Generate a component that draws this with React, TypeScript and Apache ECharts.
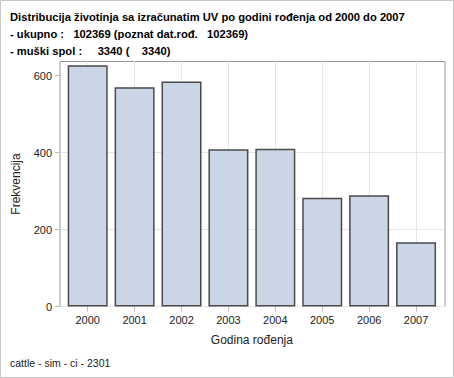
import React, { useEffect, useRef } from "react";
import * as echarts from "echarts";

const categories = ["2000", "2001", "2002", "2003", "2004", "2005", "2006", "2007"];
const counts = [627, 570, 585, 409, 410, 283, 289, 167];
const yTicks = [0, 200, 400, 600];
const yMax = 637;

const titleLines = [
  "Distribucija životinja sa izračunatim UV po godini rođenja od 2000 do 2007",
  "- ukupno :   102369 (poznat dat.rođ.   102369)",
  "- muški spol :     3340 (    3340)",
];
const footer = "cattle - sim - ci - 2301";
const xName = "Godina rođenja";
const yName = "Frekvencija";

const FONT = "'Liberation Sans', Arial, sans-serif";

export default function App() {
  const ref = useRef<HTMLDivElement>(null);
  useEffect(() => {
    if (!ref.current) return;
    const chart = echarts.init(ref.current, undefined, { renderer: "svg" });
    chart.setOption({
      animation: false,
      backgroundColor: "#ffffff",
      textStyle: { fontFamily: FONT },
      title: {
        text: titleLines.join("\n"),
        left: 5,
        top: 3,
        textStyle: { fontSize: 11.2, fontWeight: "bold", color: "#000", lineHeight: 17, fontFamily: FONT },
      },
      grid: [
        { left: 60, right: 9, top: 61.5, bottom: 71.5, show: true, borderColor: "#999", borderWidth: 1, backgroundColor: "transparent" },
        { left: 64.25, right: 14.5, top: 61.5, bottom: 71.5 },
      ],
      xAxis: [
        { gridIndex: 0, type: "value", min: 0, max: 1, show: false },
        {
          gridIndex: 1,
          type: "category",
          data: categories,
          axisLine: { show: false },
          axisTick: { show: true, alignWithLabel: true, length: 5, lineStyle: { color: "#bbb" } },
          axisLabel: { fontSize: 11, color: "#222", margin: 8, fontFamily: FONT },
          splitLine: { show: true, alignWithLabel: true, lineStyle: { color: "#e6e6e6" } },
          name: xName,
          nameLocation: "middle",
          nameGap: 27,
          nameTextStyle: { fontSize: 12, color: "#222", fontFamily: FONT },
        },
      ],
      yAxis: [
        {
          gridIndex: 0,
          type: "value",
          min: 0,
          max: yMax,
          interval: 200,
          axisLine: { show: false },
          axisTick: { show: true, length: 5, lineStyle: { color: "#bbb" }, customValues: yTicks },
          axisLabel: { fontSize: 11, color: "#222", margin: 8, customValues: yTicks, fontFamily: FONT },
          splitLine: { show: true, showMaxLine: false, lineStyle: { color: "#e6e6e6" } },
          name: yName,
          nameLocation: "middle",
          nameGap: 38,
          nameTextStyle: { fontSize: 12, color: "#222", fontFamily: FONT },
        },
        { gridIndex: 1, type: "value", min: 0, max: yMax, show: false },
      ],
      series: [
        {
          type: "bar",
          xAxisIndex: 1,
          yAxisIndex: 1,
          data: counts,
          barWidth: 40,
          itemStyle: { color: "#CAD5E5", borderColor: "#4a4a4a", borderWidth: 1.5 },
        },
      ],
      graphic: [
        {
          type: "text",
          left: 10,
          top: 357,
          style: { text: footer, fontSize: 10.5, fill: "#222", fontFamily: FONT },
        },
        {
          type: "rect",
          shape: { x: 0.5, y: 0.5, width: 453, height: 377 },
          style: { fill: "none", stroke: "#c8c8c8", lineWidth: 1 },
          silent: true,
        },
      ],
    });
    return () => chart.dispose();
  }, []);
  return <div ref={ref} style={{ position: "fixed", left: 0, top: 0, width: 454, height: 378 }} />;
}
